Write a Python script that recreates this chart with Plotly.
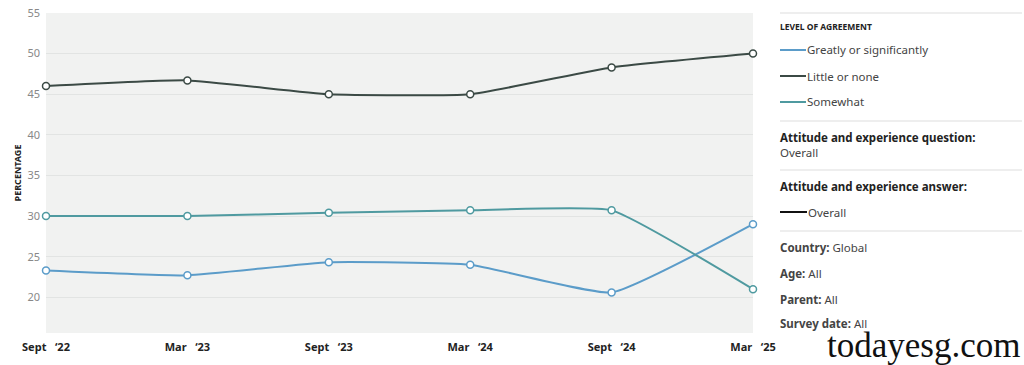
import plotly.graph_objects as go

dates = ["Sept '22", "Mar '23", "Sept '23", "Mar '24", "Sept '24", "Mar '25"]
tick_labels = ["Sept\u00a0\u00a0\u00a0\u201822", "Mar\u00a0\u00a0\u00a0\u201823", "Sept\u00a0\u00a0\u00a0\u201823",
               "Mar\u00a0\u00a0\u00a0\u201824", "Sept\u00a0\u00a0\u00a0\u201824", "Mar\u00a0\u00a0\u00a0\u201825"]
greatly = [23.3, 22.7, 24.3, 24.0, 20.6, 29.0]
little = [46.0, 46.7, 45.0, 45.0, 48.3, 50.0]
somewhat = [30.0, 30.0, 30.4, 30.7, 30.7, 21.0]

series = [
    ("Greatly or significantly", greatly, "#5b9cc9"),
    ("Little or none", little, "#3b4a45"),
    ("Somewhat", somewhat, "#4f9aa0"),
]

FONT = "Noto Sans"
xi = list(range(len(dates)))

fig = go.Figure()
for name, vals, col in series:
    fig.add_trace(go.Scatter(
        x=xi, y=vals, name=name, mode="lines+markers",
        line=dict(color=col, width=2, shape="spline", smoothing=0.4),
        marker=dict(size=7, color="white", line=dict(color=col, width=1.5)),
        cliponaxis=False, showlegend=False,
    ))

fig.update_layout(
    width=1024, height=365,
    margin=dict(l=46, r=271, t=13, b=32, autoexpand=False),
    paper_bgcolor="white", plot_bgcolor="#f1f2f1",
    font=dict(family=FONT, size=11, color="#333"),
    xaxis=dict(range=[0, 5], tickvals=xi, ticktext=[f"<b>{t}</b>" for t in tick_labels],
               showgrid=False, zeroline=False, showline=False, ticks="", automargin=False,
               ticklabeloverflow="allow",
               tickfont=dict(size=11, color="#222"), ticklabelstandoff=6),
    yaxis=dict(range=[15.6, 55], tickvals=[20, 25, 30, 35, 40, 45, 50, 55],
               showgrid=True, gridcolor="#e2e4e3", gridwidth=1, zeroline=False, automargin=False,
               ticklabeloverflow="allow",
               ticks="", tickfont=dict(size=11, color="#888"), ticklabelstandoff=5,
               title=dict(text="<b>PERCENTAGE</b>", font=dict(size=9, color="#222"), standoff=4)),
)

def px_x(x):
    return (x - 46) / 707

def px_y(y):
    return (333 - y) / 320

X0 = 780
for y in [13, 121, 170, 231]:
    fig.add_shape(type="line", xref="paper", yref="paper",
                  x0=px_x(X0), x1=px_x(1022), y0=px_y(y), y1=px_y(y),
                  line=dict(color="#dddddd", width=1))

def ann(text, x, y, size=11.5, color="#333", bold=False):
    fig.add_annotation(xref="paper", yref="paper", x=px_x(x - 2), y=px_y(y),
                       text=(f"<b>{text}</b>" if bold else text), showarrow=False,
                       xanchor="left", yanchor="middle",
                       font=dict(family=FONT, size=size, color=color))

ann("LEVEL OF AGREEMENT", X0, 27, size=8.5, color="#222", bold=True)
for (name, vals, col), y in zip(series, [50, 76, 102]):
    fig.add_shape(type="line", xref="paper", yref="paper",
                  x0=px_x(X0), x1=px_x(X0 + 26), y0=px_y(y), y1=px_y(y),
                  line=dict(color=col, width=2))
    ann(name, X0 + 27, y, color="#444")

ann("Attitude and experience question:", X0, 137, color="#222", bold=True)
ann("Overall", X0, 152, color="#444")
ann("Attitude and experience answer:", X0, 186, color="#222", bold=True)
fig.add_shape(type="line", xref="paper", yref="paper",
              x0=px_x(X0), x1=px_x(X0 + 27), y0=px_y(212), y1=px_y(212),
              line=dict(color="#111", width=2))
ann("Overall", X0 + 28, 212, color="#444")
ann("<b>Country:</b> Global", X0, 247, color="#444")
ann("<b>Age:</b> All", X0, 273, color="#444")
ann("<b>Parent:</b> All", X0, 299, color="#444")
ann("<b>Survey date:</b> All", X0, 323, color="#444")

fig.add_annotation(xref="paper", yref="paper", x=px_x(1022), y=px_y(367),
                   text="todayesg.com", showarrow=False, xanchor="right", yanchor="bottom",
                   font=dict(family="Liberation Serif", size=35, color="#111"))

fig.write_html("out.html", config={"displayModeBar": False},
               post_script="document.body.style.margin='0';document.body.style.overflow='hidden';")
